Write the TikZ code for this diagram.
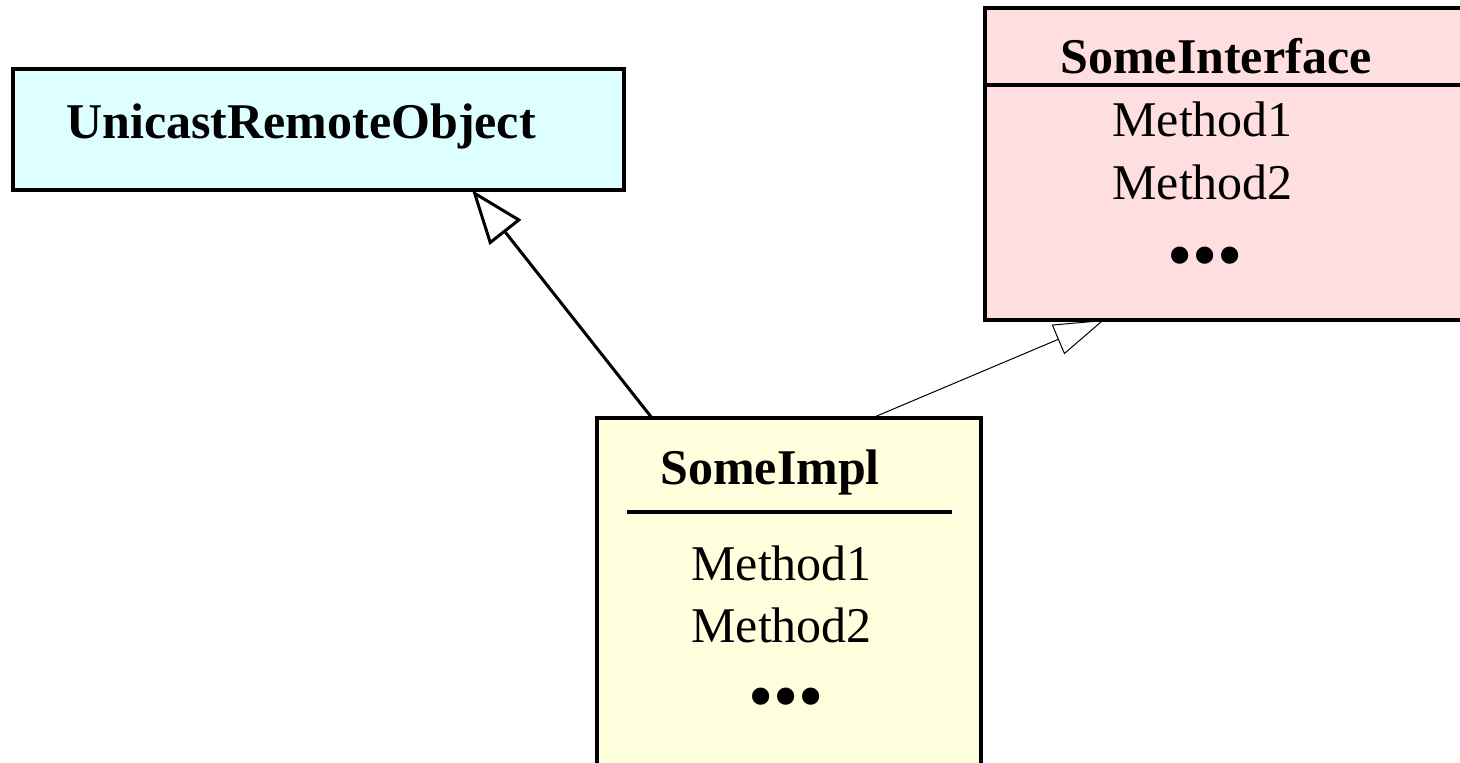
\documentclass[tikz,border=0pt]{standalone}
\usepackage{fontspec}
\setmainfont{Liberation Serif}
\usetikzlibrary{arrows.meta, positioning}

\definecolor{urofill}{HTML}{DDFFFF}
\definecolor{ifacefill}{HTML}{FFDEE0}
\definecolor{implfill}{HTML}{FFFFDD}

\begin{document}
\begin{tikzpicture}[x=0.5pt, y=-0.5pt,
	classbox/.style={draw, line width=1.6pt, anchor=north west, inner sep=0pt, outer sep=0pt},
	classname/.style={font=\fontsize{25}{30}\selectfont\bfseries, anchor=base west, inner sep=0pt},
	methname/.style={font=\fontsize{25}{30}\selectfont, anchor=base west, inner sep=0pt},
	moredots/.style={font=\fontsize{36}{40}\selectfont, inner sep=0pt}]
	\useasboundingbox (0,0) rectangle (1460,762);
	\clip (0,0) rectangle (1460,762);

	\node[classbox, fill=urofill, minimum width=305.5pt, minimum height=60.5pt] (uro) at (13,69) {};
	\node[classbox, fill=ifacefill, minimum width=270pt, minimum height=156pt] (iface) at (985,8) {};
	\node[classbox, fill=implfill, minimum width=192pt, minimum height=200pt] (impl) at (597,418) {};

	\draw[line width=1.6pt] ([yshift=-38.5pt]iface.north west) -- ([yshift=-38.5pt]iface.north east);
	\draw[line width=1.6pt] (627,512) -- (952,512);

	\node[classname] (uroname) at (66,138) {UnicastRemoteObject};

	\node[classname] (ifacename) at (1060,73) {SomeInterface};
	\node[methname] (ifacem1) at (1112,136) {Method1};
	\node[methname] (ifacem2) at (1112,199) {Method2};
	\node[moredots] (ifacedots) at (1205,263) {\textbullet\textbullet\textbullet};

	\node[classname] (implname) at (660,484) {SomeImpl};
	\node[methname] (implm1) at (691,580) {Method1};
	\node[methname] (implm2) at (691,642) {Method2};
	\node[moredots] (impldots) at (786,704) {\textbullet\textbullet\textbullet};

	\draw [line width=1.5pt, -{Triangle[open, length=27pt, width=20pt]}]
		([xshift=27.5pt]impl.north west) -- ([xshift=-76pt]uro.south east);
	\draw [line width=0.5pt, -{Triangle[open, length=25pt, width=16pt]}]
		([xshift=137.5pt]impl.north west) -- ([xshift=59.5pt]iface.south west);
\end{tikzpicture}
\end{document}
